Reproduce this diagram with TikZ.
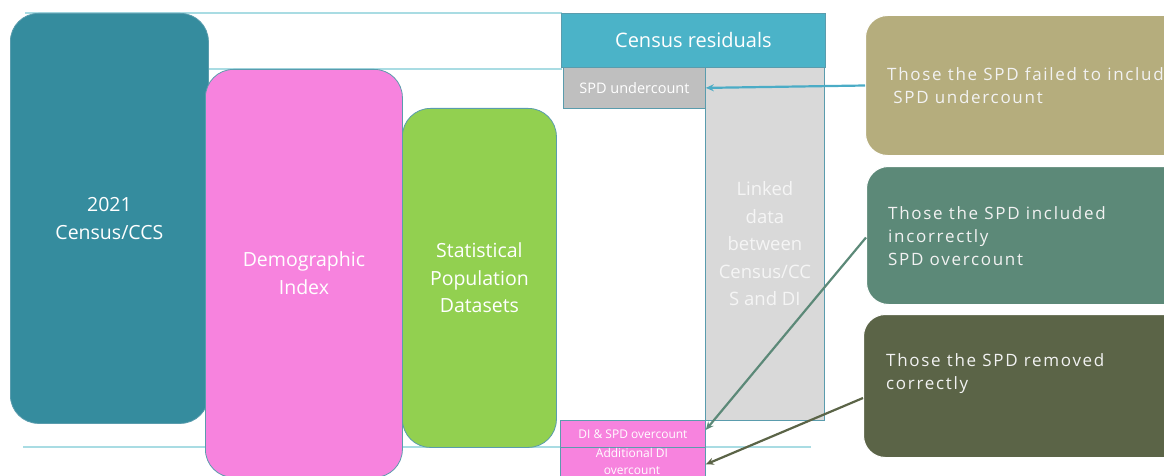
\documentclass[tikz,border=0pt]{standalone}
\usepackage{fontspec}
\setmainfont{Open Sans}
\newfontfamily\spacedfont[LetterSpace=10]{Open Sans}
\usetikzlibrary{arrows.meta}
\definecolor{cteal}{HTML}{358C9E}
\definecolor{cpink}{HTML}{F783DE}
\definecolor{cgreen}{HTML}{92D050}
\definecolor{cres}{HTML}{4BB3C8}
\definecolor{cgrey}{HTML}{BFBFBF}
\definecolor{clight}{HTML}{D9D9D9}
\definecolor{ctan}{HTML}{B5AD7D}
\definecolor{ctg}{HTML}{5C8978}
\definecolor{colive}{HTML}{5B6447}
\definecolor{cline}{HTML}{A9DCE3}
\definecolor{cborder}{HTML}{5A9CAD}
\definecolor{carrow}{HTML}{4BACC6}
\tikzset{
  bigbox/.style={draw=cborder, line width=0.8pt, rounded corners=28pt, anchor=north west, inner sep=0pt, align=center, text=white, font=\fontsize{19.5}{27.5}\selectfont},
  sqbox/.style={draw=cborder, line width=0.8pt, anchor=north west, inner sep=0pt, align=center, text=white},
  rbox/.style={draw=white, line width=1pt, rounded corners=22pt, anchor=north west, inner sep=0pt},
  rtext/.style={anchor=west, align=left, text=white!95!black, inner sep=0pt, font=\spacedfont\fontsize{17}{23}\selectfont},
  hline/.style={draw=cline, line width=1.5pt},
  arr/.style={line width=2.2pt, -{Stealth[length=8pt,width=7pt]}}
}
\begin{document}
\begin{tikzpicture}[x=1pt,y=-1pt]
\useasboundingbox (0,0) rectangle (1164,476);
\clip (0,0) rectangle (1164,476);
% guide lines
\coordinate (l1a) at (25,13); \coordinate (l1b) at (562,13);
\coordinate (l2a) at (200,69); \coordinate (l2b) at (562,69);
\coordinate (l3a) at (23,447); \coordinate (l3b) at (811,447);
\draw[hline] (l1a) -- (l1b);
\draw[hline] (l2a) -- (l2b);
\draw[hline] (l3a) -- (l3b);
% main boxes
\node[bigbox, fill=cteal, minimum width=198pt, minimum height=410pt] (census) at (10,13) {2021\\Census/CCS};
\node[bigbox, fill=cpink, minimum width=197pt, minimum height=408pt] (di) at (205,69) {Demographic\\Index};
\node[bigbox, fill=cgreen, minimum width=154pt, minimum height=339pt] (spd) at (402,108) {Statistical\\Population\\Datasets};
% census residual column
\node[sqbox, fill=cres, minimum width=264pt, minimum height=54pt, font=\fontsize{20}{24}\selectfont] (res) at (561,13) {Census residuals};
\node[sqbox, fill=clight, minimum width=119pt, minimum height=353pt, text=white!96!black, font=\fontsize{18.5}{27.5}\selectfont] (linked) at (705,67) {Linked\\data\\between\\Census/CC\\S and DI};
\node[sqbox, fill=cgrey, minimum width=142pt, minimum height=41pt, font=\fontsize{14.5}{17}\selectfont] (under) at (563,67) {SPD undercount};
\node[sqbox, fill=cpink, minimum width=145pt, minimum height=27pt, font=\fontsize{12}{14}\selectfont] (dso) at (560,420) {DI \& SPD overcount};
\node[sqbox, fill=cpink, minimum width=145pt, minimum height=34pt, anchor=north west] (adi) at (560,447) {};
\node[text=white, font=\fontsize{12}{17}\selectfont, anchor=north, inner sep=0pt, align=center] (aditext) at (632,448) {Additional DI\\overcount};
% right boxes
\node[rbox, fill=ctan, minimum width=330pt, minimum height=140pt] (r1) at (865,15) {};
\node[rbox, fill=ctg, minimum width=330pt, minimum height=138pt] (r2) at (866,166) {};
\node[rbox, fill=colive, minimum width=330pt, minimum height=143pt] (r3) at (863,314) {};
\node[rtext] (t1) at (887,86) {Those the SPD failed to include\\\ SPD undercount};
\node[rtext] (t2) at (888,236) {Those the SPD included\\incorrectly\\SPD overcount};
\node[rtext] (t3) at (886,374) {Those the SPD removed\\correctly};
% arrows
\draw[arr, draw=carrow] (r1.west) -- (under.east);
\draw[arr, draw=ctg] ([yshift=-2pt]r2.west) -- ([yshift=4pt]dso.east);
\draw[arr, draw=colive] ([yshift=-12pt]r3.west) -- (adi.east);
\end{tikzpicture}
\end{document}
